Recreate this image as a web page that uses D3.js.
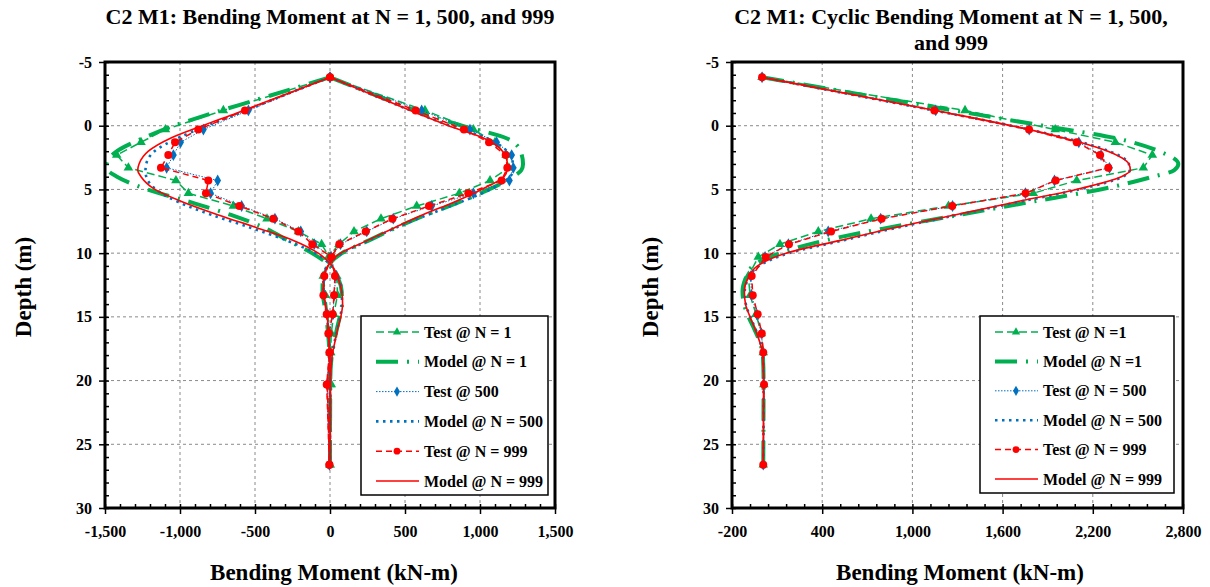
<!DOCTYPE html>
<html>
<head>
<meta charset="utf-8">
<script src="https://cdn.jsdelivr.net/npm/d3@7"></script>
<style>
  body { margin: 0; background: #fff; }
  svg { display: block; }
  text { font-family: "Liberation Serif", "Times New Roman", serif; font-weight: bold; fill: #000; }
</style>
</head>
<body>
<svg id="chart" width="1210" height="587"></svg>
<script>
// depths (m) of the strain gauges and of the model output
const depthTest = [-3.8, -1.2, 0.3, 1.3, 2.3, 3.3, 4.3, 5.3, 6.3, 7.3, 8.3, 9.3, 10.3, 11.8, 13.3, 14.8, 16.3, 17.8, 20.3, 26.6]
const depthModel = [-3.8, -2, -1, 0, 1, 2, 3, 3.5, 4, 5, 6, 7, 8, 9, 10, 11, 12, 13, 14, 15, 16, 17, 18, 20, 26.6]

// left panel: bending moment, min and max branches (kN-m)
const test1Min = [0, -711, -1097, -1260, -1422, -1344, -1027, -944, -644, -420, -210, -56, -5, -45, -30, -15, -5, 0, 3, 0]
const test1Max = [0, 633, 956, 1100, 1174, 1192, 1067, 862, 578, 340, 160, 60, -10, 45, 50, 25, 8, 5, 8, 0]
const test500Min = [0, -544, -844, -996, -1044, -1089, -749, -796, -589, -367, -195, -105, 5, -35, -40, -20, -10, -4, -20, -4]
const test500Max = [0, 611, 933, 1111, 1211, 1222, 1196, 956, 678, 422, 245, 70, 8, 38, 28, 20, -6, -2, -16, -4]
const test999Min = [0, -567, -878, -1033, -1078, -1127, -811, -827, -604, -378, -211, -118, 11, -38, -44, -22, -11, -4, -22, -4]
const test999Max = [0, 571, 893, 1060, 1171, 1182, 1144, 922, 660, 416, 238, 62, 7, 33, 27, 18, -8, -2, -18, -4]

const model1Min = [0, -500, -780, -1040, -1250, -1420, -1489, -1480, -1420, -1220, -930, -660, -440, -280, -120, 0, 55, 78, 80, 65, 45, 28, 12, 2, 0]
const model1Max = [0, 390, 610, 880, 1180, 1270, 1287, 1275, 1220, 1060, 860, 640, 440, 260, 80, -15, -48, -50, -38, -25, -15, -8, -3, 0, 0]
const model500Min = [0, -390, -600, -820, -1020, -1170, -1225, -1230, -1225, -1160, -1010, -790, -530, -290, -100, 10, 60, 78, 80, 68, 48, 30, 14, 2, 0]
const model500Max = [0, 370, 580, 800, 1050, 1180, 1220, 1222, 1200, 1070, 870, 650, 440, 260, 80, -20, -45, -45, -32, -20, -12, -6, -2, 0, 0]
const model999Min = [0, -400, -620, -850, -1067, -1211, -1273, -1282, -1260, -1167, -978, -744, -489, -244, -78, 15, 55, 78, 84, 72, 50, 32, 15, 3, 0]
const model999Max = [0, 370, 576, 790, 1030, 1150, 1182, 1180, 1160, 1010, 825, 615, 430, 250, 70, -15, -42, -45, -30, -18, -12, -6, -2, 0, 0]

// right panel: cyclic bending moment (kN-m)
const cyc1Test = [0, 1350, 1950, 2350, 2596, 2536, 2093, 1804, 1240, 725, 374, 119, -25, -91, -80, -40, -5, 8, 12, 8]
const cyc500Test = [0, 1155, 1777, 2107, 2255, 2311, 1945, 1752, 1267, 789, 440, 175, 20, -75, -70, -35, -5, 8, 12, 8]
const cyc999Test = [0, 1146, 1776, 2093, 2248, 2303, 1953, 1753, 1265, 795, 459, 179, 24, -69, -62, -29, -2, 8, 13, 8]
const cyc1Model = [0, 880, 1370, 1870, 2360, 2640, 2769, 2740, 2600, 2250, 1780, 1310, 840, 420, 120, -60, -110, -130, -120, -90, -50, -15, 5, 10, 8]
const cyc500Model = [0, 790, 1230, 1660, 2030, 2310, 2440, 2445, 2400, 2110, 1700, 1300, 900, 540, 180, -20, -90, -115, -108, -78, -42, -12, 6, 10, 8]
const cyc999Model = [0, 800, 1240, 1660, 2020, 2300, 2440, 2450, 2390, 2090, 1680, 1280, 880, 520, 160, -30, -95, -118, -110, -80, -45, -15, 5, 10, 8]

// ticks and labels
const depthTicks = [-5, 0, 5, 10, 15, 20, 25, 30]
const leftXTicks = [-1500, -1000, -500, 0, 500, 1000, 1500]
const rightXTicks = [-200, 400, 1000, 1600, 2200, 2800]
const leftLegend = ['Test @ N = 1', 'Model @ N = 1', 'Test @ 500', 'Model @ N = 500', 'Test @ N = 999', 'Model @ N = 999']
const rightLegend = ['Test @ N =1', 'Model @ N =1', 'Test @ N = 500', 'Model @ N = 500', 'Test @ N = 999', 'Model @ N = 999']

const GREEN = '#00b050', BLUE = '#0070c0', RED = '#ff0000'
const styles = [
  {color: GREEN, width: 1.5, dash: '8,4', marker: 'triangle', test: true},
  {color: GREEN, width: 4, dash: '22,9,2,9'},
  {color: BLUE, width: 1, dash: '1.5,1.5', marker: 'diamond', test: true},
  {color: BLUE, width: 2.6, dash: '2.5,4.5'},
  {color: RED, width: 1.5, dash: '6,4', marker: 'circle', test: true},
  {color: RED, width: 1.6, dash: null}
]

const svg = d3.select('#chart')
// excel style labels: plain hyphen for negatives
const fmt = v => d3.format(',')(v).replace('\u2212', '-')

function markerPath(type, s) {
  const sym = type === 'triangle' ? d3.symbolTriangle : type === 'diamond' ? d3.symbolDiamond : d3.symbolCircle
  return d3.symbol().type(sym).size(s)()
}

function drawPanel(cfg) {
  const x = d3.scaleLinear().domain(cfg.xDomain).range(cfg.xRange)
  const y = d3.scaleLinear().domain([-5, 30]).range([62, 508])
  const g = svg.append('g')
  const [x0, x1] = cfg.xRange

  // grid
  g.append('g').selectAll('line').data(cfg.xTicks.slice(1, -1)).join('line')
    .attr('x1', d => x(d)).attr('x2', d => x(d)).attr('y1', 62).attr('y2', 508)
    .attr('stroke', '#8a8a8a').attr('stroke-dasharray', '3,3')
  g.append('g').selectAll('line').data(depthTicks.slice(1, -1)).join('line')
    .attr('x1', x0).attr('x2', x1).attr('y1', d => y(d)).attr('y2', d => y(d))
    .attr('stroke', '#8a8a8a').attr('stroke-dasharray', '3,3')

  // axes
  const minorY = d3.range(-5, 31, 1)
  const step = (cfg.xTicks[1] - cfg.xTicks[0]) / 5
  const minorX = d3.range(cfg.xDomain[0], cfg.xDomain[1] + step / 2, step)
  g.append('g').attr('transform', `translate(${x0},0)`)
    .call(d3.axisLeft(y).tickValues(depthTicks).tickSize(6).tickPadding(7).tickFormat(fmt))
  g.append('g').attr('transform', `translate(${x0},0)`)
    .call(d3.axisRight(y).tickValues(minorY).tickSize(4).tickFormat(''))
  g.append('g').attr('transform', 'translate(0,508)')
    .call(d3.axisBottom(x).tickValues(cfg.xTicks).tickSize(6).tickPadding(12).tickFormat(fmt))
  g.append('g').attr('transform', 'translate(0,508)')
    .call(d3.axisTop(x).tickValues(minorX).tickSize(4).tickFormat(''))
  g.selectAll('.domain').remove()
  g.selectAll('.tick line').attr('stroke', '#000').attr('stroke-width', 1.5)
  g.selectAll('.tick text').style('font-size', '16px').style('font-family', '"Liberation Serif", serif').style('font-weight', 'bold')

  // series
  const clip = 'clip' + cfg.id
  svg.append('clipPath').attr('id', clip).append('rect')
    .attr('x', x0).attr('y', 62).attr('width', x1 - x0).attr('height', 446)
  const plot = g.append('g').attr('clip-path', `url(#${clip})`)
  const lineTest = d3.line().x(d => x(d[1])).y(d => y(d[0]))
  const lineModel = d3.line().x(d => x(d[1])).y(d => y(d[0])).curve(d3.curveMonotoneY)

  cfg.series.forEach((branches, i) => {
    const st = styles[i]
    const depths = st.test ? depthTest : depthModel
    const sg = plot.append('g')
    branches.forEach(vals => {
      const pts = depths.map((dd, k) => [dd, vals[k]])
      sg.append('path')
        .attr('d', (st.test ? lineTest : lineModel)(pts))
        .attr('fill', 'none').attr('stroke', st.color).attr('stroke-width', st.width)
        .attr('stroke-dasharray', st.dash)
      if (st.marker) {
        sg.append('g').selectAll('path').data(pts).join('path')
          .attr('transform', d => `translate(${x(d[1])},${y(d[0])})`)
          .attr('d', markerPath(st.marker, st.marker === 'circle' ? 50 : 40))
          .attr('fill', st.color)
      }
    })
  })

  // frame
  g.append('rect').attr('x', x0).attr('y', 62).attr('width', x1 - x0).attr('height', 446)
    .attr('fill', 'none').attr('stroke', '#000').attr('stroke-width', 3)

  // legend
  const L = cfg.legend
  const lg = g.append('g')
  lg.append('rect').attr('x', L.x).attr('y', L.y).attr('width', L.w).attr('height', L.h)
    .attr('fill', '#fff').attr('stroke', '#000').attr('stroke-width', 1.5)
  cfg.legendLabels.forEach((lab, i) => {
    const st = styles[i]
    const ry = L.y + 16 + i * L.dy
    lg.append('line').attr('x1', L.x + 15).attr('x2', L.x + 58).attr('y1', ry).attr('y2', ry)
      .attr('stroke', st.color).attr('stroke-width', st.width).attr('stroke-dasharray', st.dash)
    if (st.marker) {
      lg.append('path').attr('transform', `translate(${L.x + 36},${ry})`)
        .attr('d', markerPath(st.marker, st.marker === 'circle' ? 36 : 30)).attr('fill', st.color)
    }
    lg.append('text').attr('x', L.x + 63).attr('y', ry).attr('dy', '0.35em')
      .style('font-size', '16px').text(lab)
  })

  // titles
  const t = g.append('text').attr('text-anchor', 'middle').style('font-size', '22px')
  cfg.title.forEach((s, i) => t.append('tspan').attr('x', cfg.titleX).attr('y', 24 + i * 26).text(s))
  g.append('text').attr('text-anchor', 'middle').attr('x', cfg.xLabelX).attr('y', 580)
    .style('font-size', '23px').text('Bending Moment (kN-m)')
  g.append('text').attr('text-anchor', 'middle')
    .attr('transform', `translate(${cfg.yLabelX},287) rotate(-90)`)
    .style('font-size', '23px').text('Depth (m)')
}

drawPanel({
  id: 'L', xDomain: [-1500, 1500], xRange: [105, 555], xTicks: leftXTicks,
  series: [[test1Min, test1Max], [model1Min, model1Max], [test500Min, test500Max],
           [model500Min, model500Max], [test999Min, test999Max], [model999Min, model999Max]],
  legend: {x: 361, y: 316, w: 187, h: 179, dy: 29.8}, legendLabels: leftLegend,
  title: ['C2 M1: Bending Moment at N = 1, 500, and 999'], titleX: 330,
  xLabelX: 334, yLabelX: 31
})

drawPanel({
  id: 'R', xDomain: [-200, 2800], xRange: [732, 1183], xTicks: rightXTicks,
  series: [[cyc1Test], [cyc1Model], [cyc500Test], [cyc500Model], [cyc999Test], [cyc999Model]],
  legend: {x: 980, y: 316, w: 194, h: 177, dy: 29.4}, legendLabels: rightLegend,
  title: ['C2 M1: Cyclic Bending Moment at N = 1, 500,', 'and 999'], titleX: 951,
  xLabelX: 960, yLabelX: 658
})
</script>
</body>
</html>
